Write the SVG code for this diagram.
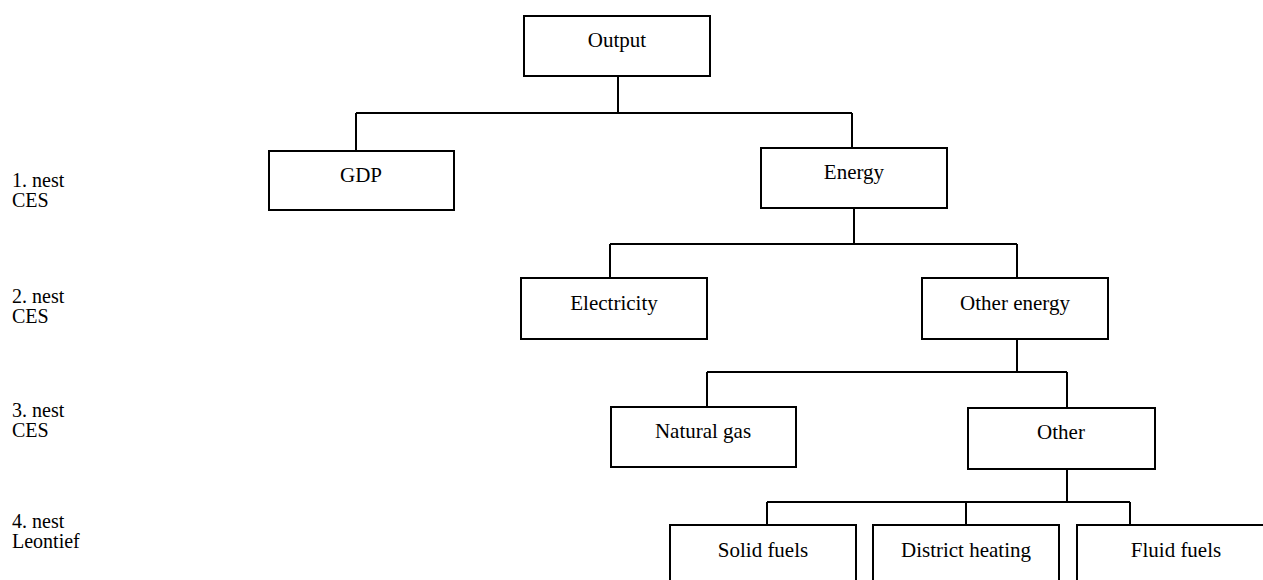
<svg xmlns="http://www.w3.org/2000/svg" width="1263" height="580" viewBox="0 0 1263 580">
<style>
  .box { fill: #ffffff; stroke: #000000; stroke-width: 2; }
  .lbl { font-family: "Liberation Serif", "Times New Roman", serif; font-size: 21px; fill: #000000; text-anchor: middle; }
  .lvl { font-family: "Liberation Serif", "Times New Roman", serif; font-size: 20px; fill: #000000; }
  .conn { fill: none; stroke: #000000; stroke-width: 2; }
</style>
<rect width="1263" height="580" fill="#ffffff"/>
<g id="connectors">
  <path class="conn" d="M618 76 V113 M356 113 H852 M356 113 V151 M852 113 V148"/>
  <path class="conn" d="M854 208 V244 M610 244 H1017 M610 244 V278 M1017 244 V278"/>
  <path class="conn" d="M1017 339 V372 M707 372 H1067 M707 372 V407 M1067 372 V408"/>
  <path class="conn" d="M1067 469 V502 M767 502 H1130 M767 502 V525 M966 502 V525 M1130 502 V525"/>
</g>
<g id="node-output"><rect class="box" x="524" y="16" width="186" height="60"/><text class="lbl" x="617" y="47">Output</text></g>
<g id="node-gdp"><rect class="box" x="269" y="151" width="185" height="59"/><text class="lbl" x="361" y="182">GDP</text></g>
<g id="node-energy"><rect class="box" x="761" y="148" width="186" height="60"/><text class="lbl" x="854" y="179">Energy</text></g>
<g id="node-electricity"><rect class="box" x="521" y="278" width="186" height="61"/><text class="lbl" x="614" y="310">Electricity</text></g>
<g id="node-other-energy"><rect class="box" x="922" y="278" width="186" height="61"/><text class="lbl" x="1015" y="310">Other energy</text></g>
<g id="node-natural-gas"><rect class="box" x="611" y="407" width="185" height="60"/><text class="lbl" x="703" y="438">Natural gas</text></g>
<g id="node-other"><rect class="box" x="968" y="408" width="187" height="61"/><text class="lbl" x="1061" y="439">Other</text></g>
<g id="node-solid-fuels"><rect class="box" x="670" y="525" width="186" height="70"/><text class="lbl" x="763" y="557">Solid fuels</text></g>
<g id="node-district-heating"><rect class="box" x="873" y="525" width="186" height="70"/><text class="lbl" x="966" y="557">District heating</text></g>
<g id="node-fluid-fuels"><rect class="box" x="1077" y="525" width="200" height="70"/><text class="lbl" x="1176" y="557">Fluid fuels</text></g>
<g id="levels">
  <text class="lvl" x="12" y="187">1. nest</text><text class="lvl" x="12" y="207">CES</text>
  <text class="lvl" x="12" y="303">2. nest</text><text class="lvl" x="12" y="323">CES</text>
  <text class="lvl" x="12" y="417">3. nest</text><text class="lvl" x="12" y="437">CES</text>
  <text class="lvl" x="12" y="528">4. nest</text><text class="lvl" x="12" y="548">Leontief</text>
</g>
</svg>
